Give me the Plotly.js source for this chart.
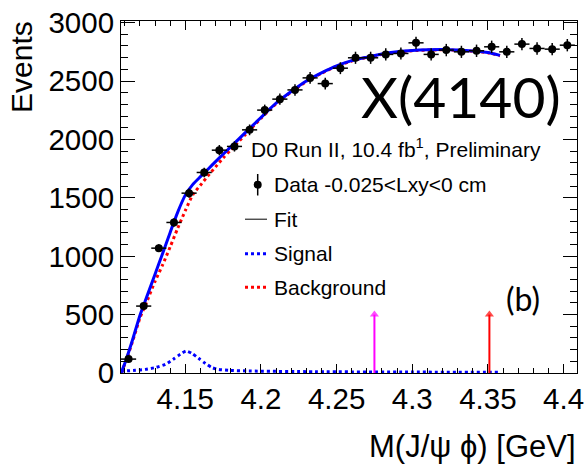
<!DOCTYPE html>
<html><head><meta charset="utf-8">
<script src="https://cdn.plot.ly/plotly-3.0.1.min.js"></script>
<style>html,body{margin:0;padding:0;background:#fff}#chart{width:586px;height:464px}</style>
</head><body><div id="chart"></div>
<script>
// ---- data ----
const binCenters = [4.1125,4.1225,4.1325,4.1425,4.1525,4.1625,4.1725,4.1825,4.1925,4.2025,
  4.2125,4.2225,4.2325,4.2425,4.2525,4.2625,4.2725,4.2825,4.2925,4.3025,
  4.3125,4.3225,4.3325,4.3425,4.3525,4.3625,4.3725,4.3825,4.3925,4.4025];
const events = [119,573,1069,1289,1540,1717,1908,1940,2082,2251,
  2345,2424,2527,2478,2610,2699,2699,2728,2736,2827,
  2728,2765,2750,2759,2793,2750,2816,2779,2773,2807];
const eventErrors = [11,24,33,36,39,41,44,44,46,47,48,49,50,50,51,52,52,52,52,53,52,53,52,53,53,52,53,53,53,53];
const binHalfWidth = 0.005;

const fitX = [4.1075,4.11,4.115,4.12,4.125,4.13,4.135,4.14,4.145,4.15,4.155,4.16,4.165,4.17,4.175,4.18,4.19,4.2,
  4.21,4.22,4.23,4.24,4.25,4.26,4.27,4.28,4.29,4.3,4.31,4.32,4.33,4.34,4.35,4.358];
const fitY = [0,81,278,493,669,846,1023,1204,1378,1523,1615,1681,1745,1810,1873,1936,2062,2188,
  2310,2410,2500,2570,2630,2675,2705,2732,2750,2762,2768,2770,2766,2758,2745,2720];
const bkgY = [0,75,265,470,625,785,925,1080,1240,1390,1527,1608,1688,1765,1840,1910,2045,2180,
  2305,2406,2496,2566,2627,2672,2702,2729,2747,2759,2765,2767,2763,2755,2742,2717];
const sigX = [4.1075,4.117,4.1236,4.13,4.1368,4.1423,4.1467,4.1505,4.1544,4.1588,4.1632,4.1676,4.172,4.1786,4.1918,4.236,4.3,4.358];
const sigY = [15,23,31,46,74,120,160,188,168,126,83,46,31,23,17,11,8,6];

const arrowX = [4.275, 4.351];
const arrowTop = [500, 500];
const arrowColors = ['#ff00ff', '#ff0000'];

const yTickVals = [0,500,1000,1500,2000,2500,3000];
const yTickText = ['0','500','1000','1500','2000','2500','3000'];
const xTickVals = [4.15,4.2,4.25,4.3,4.35,4.4];
const xTickText = ['4.15','4.2','4.25','4.3','4.35','4.4'];

// ---- geometry helpers (page pixels -> paper) ----
const W = 586, H = 464;
const M = {l:121, r:9, t:21, b:91};
const PW = W - M.l - M.r, PH = H - M.t - M.b;
const px = x => (x - M.l) / PW;
const py = y => (H - M.b - y) / PH;

const FONT = 'Liberation Sans, Arial, Helvetica, sans-serif';
const BIG = 'Lato, Open Sans, sans-serif';

const traces = [
  {x: sigX, y: sigY, mode: 'lines', line: {color: '#0000ff', width: 3, dash: 'dot', shape: 'spline', smoothing: 0.6}, hoverinfo: 'skip'},
  {x: fitX, y: bkgY, mode: 'lines', line: {color: '#ff0000', width: 3, dash: 'dot', shape: 'spline', smoothing: 0.6}, hoverinfo: 'skip'},
  {x: fitX, y: fitY, mode: 'lines', line: {color: '#0000ff', width: 3, shape: 'spline', smoothing: 0.6}, hoverinfo: 'skip'}
];
arrowX.forEach((ax, i) => {
  traces.push({x: [ax, ax], y: [0, arrowTop[i]], mode: 'lines+markers', cliponaxis: false,
    line: {color: arrowColors[i], width: 2},
    marker: {symbol: ['circle', 'triangle-up'], size: [0, 8], color: arrowColors[i], line: {width: 0}},
    hoverinfo: 'skip'});
});
traces.push({x: binCenters, y: events, mode: 'markers', marker: {color: '#000', size: 8},
   error_y: {type: 'data', array: eventErrors, visible: true, color: '#000', thickness: 1.5, width: 0},
   error_x: {type: 'constant', value: binHalfWidth, visible: true, color: '#000', thickness: 1.5, width: 0}});

const annotations = [
  {text: 'Events', xref: 'paper', yref: 'paper', x: px(21.5), y: py(67.5), textangle: -90,
   showarrow: false, xanchor: 'center', yanchor: 'middle', font: {family: FONT, size: 30, color: '#000'}},
  {text: 'M(J/\u03c8 \u03d5) [GeV]', xref: 'paper', yref: 'paper', x: px(578), y: py(446),
   showarrow: false, xanchor: 'right', yanchor: 'middle', font: {family: FONT, size: 31, color: '#000'}},
  {text: 'D0 Run II, 10.4 fb<sup>1</sup>, Preliminary', xref: 'paper', yref: 'paper', x: px(249), y: py(148),
   showarrow: false, xanchor: 'left', yanchor: 'middle', font: {family: FONT, size: 21, color: '#000'}},
  {text: 'Data -0.025&lt;Lxy&lt;0 cm', xref: 'paper', yref: 'paper', x: px(272), y: py(184.7),
   showarrow: false, xanchor: 'left', yanchor: 'middle', font: {family: FONT, size: 21, color: '#000'}},
  {text: 'Fit', xref: 'paper', yref: 'paper', x: px(272), y: py(219.2),
   showarrow: false, xanchor: 'left', yanchor: 'middle', font: {family: FONT, size: 21, color: '#000'}},
  {text: 'Signal', xref: 'paper', yref: 'paper', x: px(272), y: py(253.7),
   showarrow: false, xanchor: 'left', yanchor: 'middle', font: {family: FONT, size: 21, color: '#000'}},
  {text: 'Background', xref: 'paper', yref: 'paper', x: px(272), y: py(287.3),
   showarrow: false, xanchor: 'left', yanchor: 'middle', font: {family: FONT, size: 21, color: '#000'}},
  {text: 'X(4140)', xref: 'paper', yref: 'paper', x: px(461), y: py(96),
   showarrow: false, xanchor: 'center', yanchor: 'middle', font: {family: BIG, size: 57, color: '#000'}},
  {text: '(b)', xref: 'paper', yref: 'paper', x: px(522.7), y: py(298),
   showarrow: false, xanchor: 'center', yanchor: 'middle', font: {family: BIG, size: 32, color: '#000'}}
];

const shapes = [
  {type: 'line', xref: 'paper', yref: 'paper', x0: px(257.7), x1: px(257.7), y0: py(174), y1: py(195.5), line: {color: '#000', width: 1.5}},
  {type: 'circle', xref: 'paper', yref: 'paper', x0: px(253.7), x1: px(261.7), y0: py(180.7), y1: py(188.7), fillcolor: '#000', line: {color: '#000', width: 0}},
  {type: 'line', xref: 'paper', yref: 'paper', x0: px(245), x1: px(267), y0: py(219.2), y1: py(219.2), line: {color: '#000', width: 1}},
  {type: 'line', xref: 'paper', yref: 'paper', x0: px(245), x1: px(267), y0: py(253.7), y1: py(253.7), line: {color: '#0000ff', width: 3, dash: 'dot'}},
  {type: 'line', xref: 'paper', yref: 'paper', x0: px(245), x1: px(267), y0: py(287.3), y1: py(287.3), line: {color: '#ff0000', width: 3, dash: 'dot'}}
];

const layout = {
  width: W, height: H, margin: M,
  paper_bgcolor: '#fff', plot_bgcolor: '#fff', showlegend: false,
  xaxis: {range: [4.1075, 4.4089], showgrid: false, zeroline: false, showline: true, linecolor: '#000', linewidth: 1,
    mirror: 'ticks', ticks: 'inside', ticklen: 9, tickwidth: 1, tickcolor: '#000',
    tickvals: xTickVals, ticktext: xTickText, tickfont: {family: FONT, size: 29.5, color: '#000'},
    minor: {ticks: 'inside', dtick: 0.01, tick0: 4.1, ticklen: 5, tickwidth: 1, tickcolor: '#000', showgrid: false}},
  yaxis: {range: [0, 3014], showgrid: false, zeroline: false, showline: true, linecolor: '#000', linewidth: 1,
    mirror: 'ticks', ticks: 'inside', ticklen: 14, tickwidth: 1, tickcolor: '#000',
    tickvals: yTickVals, ticktext: yTickText, tickfont: {family: FONT, size: 29.5, color: '#000'},
    minor: {ticks: 'inside', dtick: 100, tick0: 0, ticklen: 7, tickwidth: 1, tickcolor: '#000', showgrid: false}},
  annotations: annotations, shapes: shapes
};

Plotly.newPlot('chart', traces, layout, {staticPlot: true, displayModeBar: false});
</script></body></html>
